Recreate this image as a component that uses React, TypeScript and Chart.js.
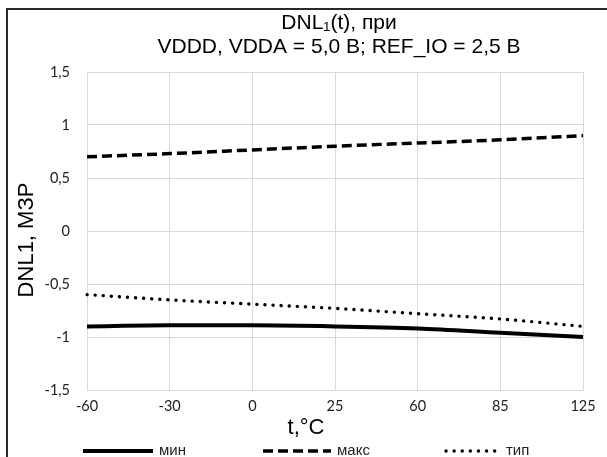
import React, { useEffect, useRef } from 'react';
import { Chart, registerables } from 'chart.js';

Chart.register(...registerables);

const categories = ['-60', '-30', '0', '25', '60', '85', '125'];
const minValues = [-0.9, -0.89, -0.89, -0.9, -0.92, -0.96, -1.0];
const maxValues = [0.7, 0.73, 0.765, 0.8, 0.83, 0.86, 0.9];
const typValues = [-0.6, -0.65, -0.69, -0.73, -0.78, -0.83, -0.9];
const seriesNames = ['мин', 'макс', 'тип'];
const titleLines = ['DNL₁(t), при', 'VDDD, VDDA = 5,0 В; REF_IO = 2,5 В'];
const xTitle = 't,°C';
const yTitle = 'DNL1, МЗР';
const yMin = -1.5;
const yMax = 1.5;
const yStep = 0.5;

const ARIAL = "'Liberation Sans', Arial, sans-serif";
const TICKFONT = "Lato, 'Open Sans', sans-serif";

const dashStyles: { dash: number[]; width: number; cap: CanvasLineCap }[] = [
  { dash: [], width: 4, cap: 'butt' },
  { dash: [10, 5], width: 3.5, cap: 'butt' },
  { dash: [0.1, 8], width: 3.4, cap: 'round' },
];

const framePlugin = {
  id: 'frame',
  beforeDraw(chart: any) {
    const ctx = chart.ctx;
    ctx.save();
    ctx.fillStyle = '#ffffff';
    ctx.fillRect(0, 0, chart.width, chart.height);
    ctx.strokeStyle = '#2a2a2a';
    ctx.lineWidth = 2;
    ctx.beginPath();
    ctx.moveTo(7, chart.height);
    ctx.lineTo(7, 9);
    ctx.lineTo(chart.width, 9);
    ctx.stroke();
    ctx.restore();
  },
};

const textPlugin = {
  id: 'chartTexts',
  afterDraw(chart: any) {
    const ctx = chart.ctx;
    ctx.save();
    ctx.fillStyle = '#000';
    ctx.textAlign = 'center';
    ctx.textBaseline = 'middle';
    // chart title
    ctx.font = `21px ${ARIAL}`;
    const cx = 339;
    ctx.fillText(titleLines[0], cx, 23);
    ctx.fillText(titleLines[1], cx, 47);
    // x axis title
    ctx.font = `22px ${ARIAL}`;
    ctx.fillText(xTitle, 306, 428);
    // y axis title
    ctx.font = `22px ${ARIAL}`;
    ctx.translate(27, 240);
    ctx.rotate(-Math.PI / 2);
    ctx.fillText(yTitle, 0, 0);
    ctx.restore();
  },
};

const legendPlugin = {
  id: 'bottomLegend',
  afterDraw(chart: any) {
    const ctx = chart.ctx;
    const items = [
      { x0: 83, x1: 153 },
      { x0: 263, x1: 331 },
      { x0: 446, x1: 500 },
    ];
    const y = 451;
    ctx.save();
    chart.data.datasets.forEach((ds: any, i: number) => {
      const st = dashStyles[i];
      const it = items[i];
      ctx.strokeStyle = '#000';
      ctx.lineWidth = st.width;
      ctx.lineCap = st.cap;
      ctx.setLineDash(st.dash);
      ctx.beginPath();
      ctx.moveTo(it.x0, y);
      ctx.lineTo(it.x1, y);
      ctx.stroke();
      ctx.setLineDash([]);
      ctx.fillStyle = '#222';
      ctx.font = `15px ${ARIAL}`;
      ctx.textBaseline = 'middle';
      ctx.textAlign = 'left';
      ctx.fillText(ds.label, it.x1 + 6, y);
    });
    ctx.restore();
  },
};

export default function App() {
  const ref = useRef<HTMLCanvasElement | null>(null);

  useEffect(() => {
    document.body.style.margin = '0';
    const canvas = ref.current;
    if (!canvas) return;
    const series = [minValues, maxValues, typValues];
    const chart = new Chart(canvas, {
      type: 'line',
      data: {
        labels: categories,
        datasets: series.map((vals, i) => ({
          label: seriesNames[i],
          data: vals,
          borderColor: '#000',
          backgroundColor: '#000',
          borderWidth: dashStyles[i].width,
          borderDash: dashStyles[i].dash,
          borderCapStyle: dashStyles[i].cap,
          pointRadius: 0,
          pointHoverRadius: 0,
          cubicInterpolationMode: 'monotone' as const,
          fill: false,
        })),
      },
      options: {
        responsive: false,
        animation: false,
        layout: { padding: { left: 0, right: 24, top: 72, bottom: 19 } },
        plugins: {
          legend: { display: false },
          tooltip: { enabled: false },
          title: { display: false },
        },
        scales: {
          x: {
            type: 'category',
            offset: false,
            grid: { color: '#d9d9d9', lineWidth: 1, drawTicks: false },
            border: { color: '#d9d9d9', width: 1 },
            ticks: {
              color: '#222',
              font: { family: TICKFONT, size: 14.5 },
              padding: 8,
              maxRotation: 0,
              autoSkip: false,
            },
            title: { display: false, text: xTitle },
            afterFit(scale: any) {
              scale.height = 48;
            },
          },
          y: {
            min: yMin,
            max: yMax,
            grid: { color: '#d9d9d9', lineWidth: 1, drawTicks: false },
            border: { color: '#d9d9d9', width: 1 },
            ticks: {
              stepSize: yStep,
              color: '#222',
              font: { family: TICKFONT, size: 14.5 },
              padding: 17,
              callback: (v: any) => String(Number(v)).replace('.', ','),
            },
            title: { display: false, text: yTitle },
            afterFit(scale: any) {
              scale.width = 87;
            },
          },
        },
      },
      plugins: [framePlugin, textPlugin, legendPlugin],
    });
    return () => chart.destroy();
  }, []);

  return <canvas ref={ref} width={607} height={457} style={{ display: 'block' }} />;
}
